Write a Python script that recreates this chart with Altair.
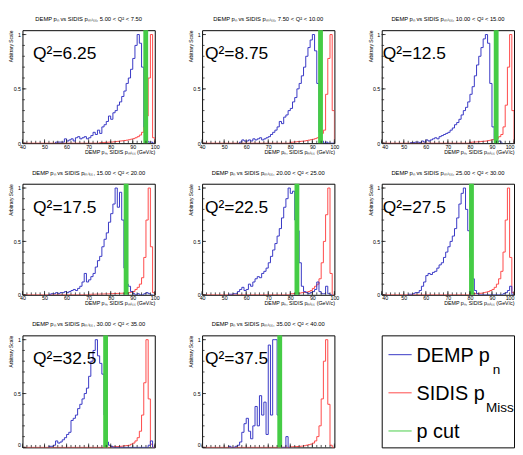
import altair as alt
import pandas as pd

FONT = "Liberation Sans"
BLUE = "#3434c4"
RED = "#ff4545"
GREEN = "#45cc45"

q2_lo = ["5.00", "7.50", "10.00", "15.00", "20.00", "25.00", "30.00", "35.00"]
q2_hi = ["7.50", "10.00", "15.00", "20.00", "25.00", "30.00", "35.00", "40.00"]
q2_text = ["Q²=6.25", "Q²=8.75", "Q²=12.5", "Q²=17.5", "Q²=22.5", "Q²=27.5", "Q²=32.5", "Q²=37.5"]
cut_pos = [95.9, 93.7, 91.9, 87.0, 83.0, 80.7, 77.7, 75.2]

# DEMP p_n histograms (1 GeV bins), first bin left edge in blue_start
blue_start = [55, 57, 53, 52, 52, 52, 52, 52]
blue_1 = [0.01, 0.01, 0.01, 0.01, 0.04, 0.02, 0.03, 0.04, 0.02, 0.05, 0.06, 0.04, 0.05, 0.06, 0.04,
          0.05, 0.07, 0.10, 0.08, 0.12, 0.09, 0.15, 0.17, 0.20, 0.25, 0.22, 0.28, 0.30, 0.35, 0.38,
          0.43, 0.48, 0.55, 0.60, 0.68, 0.78, 0.90, 1.00, 0.92, 0.70, 0.15, 0.02, 0.01, 0.01, 0.0]
blue_2 = [0.01, 0.03, 0.02, 0.02, 0.03, 0.02, 0.04, 0.03, 0.04, 0.05, 0.03, 0.04, 0.05, 0.06, 0.08,
          0.10, 0.12, 0.15, 0.20, 0.18, 0.24, 0.26, 0.30, 0.32, 0.38, 0.42, 0.50, 0.55, 0.62, 0.70,
          0.80, 0.88, 0.95, 1.00, 0.85, 0.55, 0.10, 0.02, 0.0, 0.01, 0.0, 0.0, 0.0]
blue_3 = [0.005, 0.005, 0.01, 0.01, 0.005, 0.02, 0.01, 0.03, 0.02, 0.03, 0.04, 0.05, 0.04, 0.06,
          0.07, 0.08, 0.09, 0.10, 0.12, 0.14, 0.17, 0.19, 0.22, 0.26, 0.30, 0.33, 0.38, 0.45, 0.52,
          0.62, 0.72, 0.80, 0.88, 0.96, 1.00, 0.92, 0.55, 0.15, 0.03, 0.01, 0.02, 0.0]
blue_4 = [0.005, 0.01, 0.01, 0.02, 0.01, 0.02, 0.02, 0.03, 0.02, 0.03, 0.04, 0.05, 0.04, 0.06, 0.08,
          0.12, 0.20, 0.12, 0.14, 0.17, 0.20, 0.26, 0.32, 0.36, 0.45, 0.52, 0.58, 0.68, 0.76, 0.85,
          1.00, 0.82, 0.96, 0.70, 0.25, 0.10, 0.08, 0.03, 0.01, 0.0, 0.01, 0.0, 0.0, 0.01, 0.02,
          0.01, 0.0]
blue_5 = [0.005, 0.005, 0.01, 0.01, 0.03, 0.05, 0.07, 0.04, 0.05, 0.10, 0.08, 0.12, 0.15, 0.17,
          0.16, 0.20, 0.22, 0.25, 0.30, 0.36, 0.42, 0.48, 0.55, 0.62, 0.72, 0.82, 0.90, 1.00, 0.95,
          0.97, 0.70, 0.60, 0.30, 0.08, 0.03, 0.02, 0.01, 0.02, 0.03, 0.05, 0.12, 0.03, 0.01, 0.01,
          0.08, 0.01, 0.0]
blue_6 = [0.005, 0.005, 0.01, 0.02, 0.02, 0.04, 0.08, 0.12, 0.18, 0.20, 0.19, 0.21, 0.22, 0.25,
          0.28, 0.30, 0.35, 0.40, 0.45, 0.50, 0.55, 0.62, 0.72, 0.85, 0.95, 1.00, 0.80, 0.60, 0.35,
          0.15, 0.04, 0.01, 0.0, 0.0, 0.0, 0.0, 0.0, 0.0, 0.0, 0.0, 0.0, 0.0, 0.0, 0.01, 0.02,
          0.04, 0.08, 0.0]
blue_7 = [0.01, 0.01, 0.02, 0.06, 0.04, 0.05, 0.07, 0.09, 0.12, 0.14, 0.25, 0.27, 0.30, 0.36, 0.40,
          0.45, 0.50, 0.55, 0.66, 0.80, 0.90, 1.00, 0.85, 0.78, 0.68, 0.30, 0.05, 0.02, 0.01, 0.0,
          0.0, 0.0, 0.0, 0.0, 0.0, 0.0, 0.0, 0.0, 0.0, 0.0, 0.0, 0.0, 0.0, 0.0, 0.0, 0.02, 0.06, 0.0]
blue_8 = [0.01, 0.0, 0.0, 0.01, 0.02, 0.05, 0.14, 0.22, 0.27, 0.15, 0.08, 0.20, 0.38, 0.20, 0.48,
          0.30, 0.42, 0.12, 0.95, 0.30, 1.00, 1.00, 0.30, 0.05, 0.0, 0.0, 0.10, 0.0]
blue_vals = [blue_1, blue_2, blue_3, blue_4, blue_5, blue_6, blue_7, blue_8]

# SIDIS p_Miss histograms (1 GeV bins), zero below red_start
red_start = [75, 80, 80, 70, 80, 80, 80, 80]
red_1 = [0.005, 0.005, 0.007, 0.008, 0.01, 0.01, 0.012, 0.015, 0.017, 0.02, 0.022, 0.025, 0.028,
         0.032, 0.037, 0.042, 0.05, 0.06, 0.075, 0.10, 0.15, 0.25, 0.60, 1.00, 0.05]
red_2 = [0.008, 0.01, 0.012, 0.014, 0.016, 0.018, 0.02, 0.024, 0.028, 0.032, 0.036, 0.042, 0.05,
         0.065, 0.09, 0.12, 0.45, 0.78, 1.00, 0.30]
red_3 = [0.008, 0.01, 0.011, 0.012, 0.014, 0.016, 0.018, 0.02, 0.024, 0.028, 0.032, 0.036, 0.045,
         0.06, 0.08, 0.15, 0.35, 0.70, 1.00, 0.30]
red_4 = [0.004, 0.005, 0.005, 0.006, 0.006, 0.007, 0.007, 0.008, 0.008, 0.009, 0.010, 0.011,
         0.012, 0.013, 0.014, 0.015, 0.016, 0.018, 0.020, 0.025, 0.030, 0.050, 0.070, 0.100,
         0.160, 0.350, 0.700, 1.000, 0.450, 0.020]
red_5 = [0.01, 0.011, 0.012, 0.014, 0.016, 0.02, 0.022, 0.025, 0.03, 0.04, 0.06, 0.08, 0.10, 0.15,
         0.30, 0.50, 0.75, 1.00, 0.20, 0.0]
red_6 = [0.008, 0.01, 0.011, 0.012, 0.014, 0.015, 0.02, 0.025, 0.03, 0.04, 0.05, 0.07, 0.10, 0.15,
         0.22, 0.40, 0.70, 1.00, 0.35, 0.02]
red_7 = [0.005, 0.006, 0.007, 0.008, 0.01, 0.012, 0.015, 0.017, 0.02, 0.03, 0.04, 0.06, 0.09, 0.15,
         0.30, 0.60, 1.00, 0.45, 0.03, 0.0]
red_8 = [0.005, 0.006, 0.007, 0.008, 0.01, 0.012, 0.015, 0.02, 0.025, 0.03, 0.04, 0.06, 0.10, 0.20,
         0.45, 0.80, 1.00, 0.40, 0.02, 0.0]
red_vals = [red_1, red_2, red_3, red_4, red_5, red_6, red_7, red_8]

x_labels = [40, 50, 60, 70, 80, 90, 100]
x_minor = [40, 42, 44, 46, 48, 50, 52, 54, 56, 58, 60, 62, 64, 66, 68, 70, 72, 74, 76, 78, 80,
           82, 84, 86, 88, 90, 92, 94, 96, 98, 100]
y_labels = [0, 0.5, 1]
y_minor = [0, 0.1, 0.2, 0.3, 0.4, 0.5, 0.6, 0.7, 0.8, 0.9, 1.0]

legend_main = ["DEMP p", "SIDIS p", "p cut"]
legend_sub = ["n", "Miss", ""]
legend_color = [BLUE, RED, GREEN]

W = 137
ROW_H = [117, 115, 116]
YMAX = 1.04
q_offset = [11, 3, 1]
sub_x = [115, 108, 108]
xscale = alt.Scale(domain=[40, 100], nice=False, zero=False)
yscale = alt.Scale(domain=[0, YMAX], nice=False, zero=False)


def blue_df(k):
    s = blue_start[k]
    v = blue_vals[k]
    xs = [s] + [s + i for i in range(len(v))] + [s + len(v)]
    ys = [0.0] + list(v) + [0.0]
    return pd.DataFrame({"x": xs, "v": ys, "i": list(range(len(xs)))})


def red_df(k):
    s = red_start[k]
    v = red_vals[k]
    full = [0.0] * (s - 40) + list(v) + [0.0] * (100 - s - len(v))
    xs = [40 + i for i in range(len(full))] + [100]
    ys = full + [0.0]
    return pd.DataFrame({"x": xs, "v": ys, "i": list(range(len(xs)))})


def panel(k, col, row):
    H = ROW_H[row]
    bottom = row == 2
    if bottom:
        xaxis = None
    else:
        xaxis = alt.Axis(values=x_labels, format="d", title="DEMP pₙ, SIDIS pₘᵢₛₛ (GeV/c)",
                         ticks=False, domain=False, grid=False, labelFontSize=5.5,
                         labelPadding=1, titleFontSize=5.5, titleAnchor="end", titlePadding=0,
                         titleFontWeight="normal", labelFlush=(col == 2))
    yaxis = alt.Axis(values=y_labels, format="~g", title="Arbitrary Scale", ticks=False,
                     domain=False, grid=False, labelFontSize=5.5, labelPadding=2,
                     titleFontSize=5, titleAnchor="end", titlePadding=0, minExtent=9,
                     maxExtent=9, titleFontWeight="normal", labelFlush=bottom)
    X = alt.X("x:Q", scale=xscale, axis=xaxis)
    Y = alt.Y("v:Q", scale=yscale, axis=yaxis)

    red = alt.Chart(red_df(k)).mark_line(interpolate="step-after", color=RED, strokeWidth=1,
                                         clip=True).encode(x=X, y=Y, order="i:Q")
    blue = alt.Chart(blue_df(k)).mark_line(interpolate="step-after", color=BLUE, strokeWidth=1,
                                           clip=True).encode(x=X, y=Y, order="i:Q")
    green = alt.Chart(pd.DataFrame({"x": [cut_pos[k]]})).mark_rule(
        color=GREEN, strokeWidth=5).encode(x=X)
    txt = alt.Chart(pd.DataFrame({"t": [q2_text[k]]})).mark_text(
        align="left", baseline="alphabetic", fontSize=18, font=FONT, color="black").encode(
        x=alt.value(q_offset[col]), y=alt.value(30), text="t:N")
    xmaj = alt.Chart(pd.DataFrame({"x": x_labels})).mark_rule(color="#222", strokeWidth=0.8).encode(
        x=X, y=alt.value(H), y2=alt.value(H - 4))
    xmin = alt.Chart(pd.DataFrame({"x": x_minor})).mark_rule(color="#222", strokeWidth=0.8).encode(
        x=X, y=alt.value(H), y2=alt.value(H - 2.5))
    ymaj = alt.Chart(pd.DataFrame({"v": y_labels})).mark_rule(color="#222", strokeWidth=0.8).encode(
        y=Y, x=alt.value(0), x2=alt.value(4))
    ymin = alt.Chart(pd.DataFrame({"v": y_minor})).mark_rule(color="#222", strokeWidth=0.8).encode(
        y=Y, x=alt.value(0), x2=alt.value(2.5))
    title = alt.TitleParams(text=f"DEMP pₙ vs SIDIS pₘᵢₛₛ, {q2_lo[k]} < Q² < {q2_hi[k]}",
                            fontSize=6, font=FONT, fontWeight="normal", offset=6,
                            anchor="middle", color="black")
    return alt.layer(red, blue, green, xmaj, xmin, ymaj, ymin, txt).properties(
        width=W, height=H, title=title)


def legend_panel():
    layers = []
    yscale_leg = alt.Scale(type="point", domain=[0, 1, 2], range=[20, 99], padding=0)
    for i in range(3):
        df = pd.DataFrame({"k": [legend_main[i]], "s": [legend_sub[i]], "r": [i]})
        base = alt.Chart(df)
        Yl = alt.Y("r:O", scale=yscale_leg, axis=None)
        layers.append(base.mark_rule(strokeWidth=1, color=legend_color[i]).encode(
            x=alt.value(7), x2=alt.value(31), y=Yl))
        layers.append(base.mark_text(align="left", baseline="alphabetic", fontSize=20.5,
                                     font=FONT, color="black", dy=7.5).encode(
            x=alt.value(36), y=Yl, text="k:N"))
        if legend_sub[i]:
            layers.append(base.mark_text(align="left", baseline="alphabetic", fontSize=14,
                                         font=FONT, color="black", dy=19.5).encode(
                x=alt.value(sub_x[i]), y=Yl, text="s:N"))
    return alt.layer(*layers).properties(width=W, height=ROW_H[2])


panels = []
for k in range(8):
    panels.append(panel(k, k % 3, k // 3))
panels.append(legend_panel())

chart = alt.concat(
    *panels, columns=3, spacing={"row": 42, "column": 49}, bounds="flush"
).properties(padding=0, background="white").configure_view(
    stroke="black", strokeWidth=1
).configure_axis(
    labelFont=FONT, titleFont=FONT, labelColor="black", titleColor="black"
).configure_title(font=FONT)

chart.save("out.html", embed_options={"renderer": "svg", "actions": False})
